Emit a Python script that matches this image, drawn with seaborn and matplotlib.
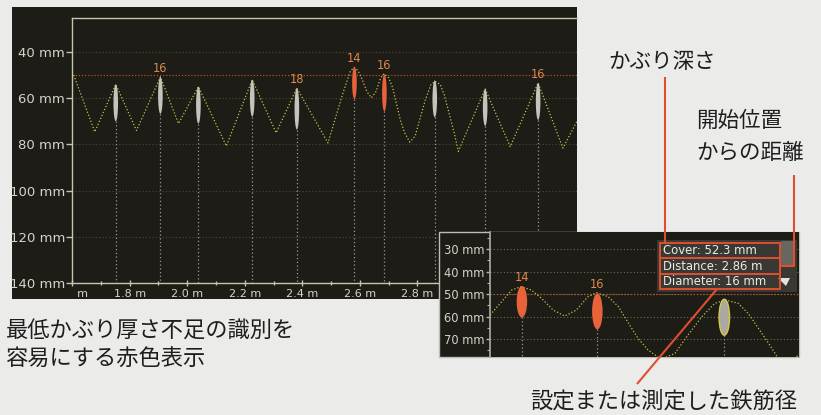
#### Rebar scan screenshot: cover depth profile with zoomed detail ####
import matplotlib
matplotlib.use('Agg')
import matplotlib.pyplot as plt
from matplotlib.patches import Ellipse, Rectangle, Polygon
from matplotlib.transforms import Bbox, TransformedBbox
import seaborn as sns

# Rebars found along the scan line
rebar_pos = [1.752, 1.907, 2.039, 2.226, 2.381, 2.581, 2.685, 2.860, 3.035, 3.219]   # m
rebar_cover = [54.0, 50.8, 55.0, 52.0, 55.6, 46.4, 49.7, 52.3, 56.0, 53.4]           # mm
rebar_diam = [16, 16, 16, 16, 18, 14, 16, 16, 16, 16]                                # mm
rebar_labelled = [False, True, False, False, True, True, True, False, False, True]
selected = 7          # rebar shown in the info box
min_cover = 50.0      # minimum cover (red line)

# Signal trace
wave_x = [1.606, 1.679, 1.752, 1.824, 1.907, 1.970, 2.039, 2.136, 2.226, 2.309, 2.381, 2.489,
          2.539, 2.553, 2.567, 2.580, 2.594, 2.608, 2.624, 2.640, 2.656, 2.672, 2.684, 2.700,
          2.714, 2.728, 2.741, 2.755, 2.773, 2.792, 2.810, 2.829, 2.847, 2.861, 2.879, 2.893,
          2.907, 2.921, 2.930, 2.942, 3.035, 3.122, 3.219, 3.305, 3.354]
wave_y = [50.0, 74.6, 54.0, 74.0, 50.8, 71.0, 55.0, 80.7, 52.0, 75.0, 55.6, 79.4,
          58.6, 53.4, 48.2, 46.7, 48.2, 51.9, 57.1, 59.8, 57.1, 51.2, 49.4, 51.2,
          55.6, 63.0, 69.7, 74.9, 79.0, 76.4, 68.2, 60.1, 54.1, 52.7, 54.1, 58.6,
          65.2, 71.9, 76.4, 83.0, 56.0, 81.0, 53.4, 81.6, 70.0]

main_yticks = [40, 60, 80, 100, 120, 140]
main_xticks = [1.6, 1.8, 2.0, 2.2, 2.4, 2.6, 2.8, 3.0, 3.2]
main_xlabels = ['1.6 m', '1.8 m', '2.0 m', '2.2 m', '2.4 m', '2.6 m', '2.8 m', '', '']  # rest hidden by the detail view
inset_yticks = [30, 40, 50, 60, 70]

sns.set_theme(style='dark')
plt.rcParams['font.family'] = ['DejaVu Sans', 'Noto Sans CJK JP']
JP = ['Noto Sans CJK JP', 'DejaVu Sans']

paper = '#ebebe9'
panel = '#1d1c16'
axis_col = '#c9c5ab'
tick_txt = '#d6d4c8'
wave_col = '#c2c24a'
red = '#e8623a'
red_line = '#b9502c'
ann_red = '#dc5030'
gray_bar = '#c4c4bc'
lab_col = '#dc8a50'
text_col = '#1e1e1e'

W, H = 821, 415
fig = plt.figure(figsize=(W / 100, H / 100), dpi=100, facecolor=paper)


def fx(px):
    return px / W


def fy(py):
    return 1 - py / H


# dark panel of the main screen
fig.add_artist(Rectangle((fx(12), fy(299)), fx(577) - fx(12), fy(7) - fy(299),
                         transform=fig.transFigure, facecolor=panel, edgecolor='none', zorder=-1))


def draw_scan(ax, ell_w, grid_col, outline_selected=False):
    bottom = ax.get_ylim()[0]
    ax.yaxis.grid(True, color=grid_col, lw=0.8, ls=(0, (1, 2)))
    ax.xaxis.grid(False)
    ax.axhline(min_cover, color=red_line, lw=0.9, ls=(0, (1, 1.5)), zorder=2)
    sns.lineplot(x=wave_x, y=wave_y, ax=ax, color=wave_col, lw=0.9, ls=(0, (1, 1.6)),
                 sort=False, estimator=None, zorder=3)
    for i, (x, c, d) in enumerate(zip(rebar_pos, rebar_cover, rebar_diam)):
        face = red if c < min_cover else gray_bar
        edge = 'none'
        if outline_selected and i == selected:
            face, edge = '#a9a9a2', '#d8c848'
        ax.vlines(x, c + d, bottom, color='#9a9a94', lw=0.9, ls=(0, (1, 2)), zorder=2)
        ax.add_patch(Ellipse((x, c + d / 2), ell_w, d, facecolor=face, edgecolor=edge,
                             lw=1.0, zorder=4))
        if rebar_labelled[i]:
            ax.annotate(str(d), (x, c), xytext=(0, 1.5), textcoords='offset points',
                        ha='center', va='bottom', color=lab_col, fontsize=8.3, zorder=5)


# ---- main chart ----
ax = fig.add_axes([fx(72), fy(283), fx(577) - fx(72), fy(18) - fy(283)], zorder=0)
ax.set_facecolor(panel)
ax.set_xlim(1.606, 3.354)
ax.set_ylim(140, 25.3)
draw_scan(ax, 0.016, '#4c4a2c')
ax.set_yticks(main_yticks)
ax.set_yticklabels([f'{v} mm' for v in main_yticks])
ax.set_xticks(main_xticks)
ax.set_xticklabels(main_xlabels)
ax.set_xticks([1.7, 1.9, 2.1, 2.3, 2.5, 2.7, 2.9, 3.1, 3.3], minor=True)
ax.tick_params(axis='y', colors=axis_col, labelcolor=tick_txt, labelsize=9.5,
               length=4, width=1, direction='out', pad=1, left=True)
ax.tick_params(axis='x', which='major', colors=axis_col, labelcolor=tick_txt, labelsize=8,
               length=5, width=1, direction='inout', pad=2, bottom=True)
ax.tick_params(axis='x', which='minor', colors=axis_col, length=3, width=1,
               direction='inout', bottom=True)
for s in ['left', 'top', 'bottom']:
    ax.spines[s].set_visible(True)
    ax.spines[s].set_color(axis_col)
    ax.spines[s].set_linewidth(1)
ax.spines['right'].set_visible(False)
ax.set_xlabel('')
ax.set_ylabel('')
# the screen cuts off the first distance label
clip = TransformedBbox(Bbox([[fx(76), 0], [1, 1]]), fig.transFigure)
for t in ax.xaxis.get_major_ticks():
    t.label1.set_clip_box(clip)
    t.label1.set_clip_on(True)

# ---- zoomed detail ----
fig.add_artist(Rectangle((fx(439), fy(357)), fx(799) - fx(439), fy(232) - fy(357),
                         transform=fig.transFigure, facecolor=panel, edgecolor='#bdbdb8',
                         lw=1.0, zorder=1))
ax2 = fig.add_axes([fx(490), fy(357), fx(799) - fx(490), fy(232) - fy(357)], zorder=2)
ax2.set_facecolor(panel)
ax2.set_xlim(2.537, 2.963)
ax2.set_ylim(78, 22.4)
draw_scan(ax2, 0.0145, '#6e6c54', outline_selected=True)
ax2.set_yticks(inset_yticks)
ax2.set_yticklabels([f'{v} mm' for v in inset_yticks])
ax2.set_yticks([25, 35, 45, 55, 65, 75], minor=True)
ax2.set_xticks([])
ax2.tick_params(axis='y', which='major', colors='#b4b4ac', labelcolor=tick_txt, labelsize=8.3,
                length=3, width=1, direction='out', pad=1, left=True)
ax2.tick_params(axis='y', which='minor', colors='#b4b4ac', length=2, width=0.8,
                direction='out', left=True)
for s in ['top', 'right', 'bottom']:
    ax2.spines[s].set_visible(False)
ax2.spines['left'].set_visible(True)
ax2.spines['left'].set_color('#a8a8a0')
ax2.set_xlabel('')
ax2.set_ylabel('')

# ---- overlay in pixel coordinates: info box and callouts ----
ov = fig.add_axes([0, 0, 1, 1], zorder=10)
ov.set_xlim(0, W)
ov.set_ylim(H, 0)
ov.axis('off')
ov.patch.set_alpha(0)

ov.add_patch(Rectangle((657, 240), 140, 52, facecolor='#3b3a35', edgecolor='none', alpha=0.95))
ov.add_patch(Rectangle((781, 241), 14, 25, facecolor='#67665f', edgecolor='none'))
ov.add_patch(Polygon([(778, 278), (790, 278), (786, 286)], closed=True,
                     facecolor='#e2e2e0', edgecolor='none'))
info = [f'Cover: {rebar_cover[selected]:.1f} mm',
        f'Distance: {rebar_pos[selected]:.2f} m',
        f'Diameter: {rebar_diam[selected]} mm']
for k, line in enumerate(info):
    y0 = 243 + k * 15.3
    ov.add_patch(Rectangle((660, y0), 120, 15.3, facecolor='none', edgecolor=ann_red, lw=1.4))
    ov.text(663, y0 + 7.9, line, color='#ecece6', fontsize=8.4, va='center', ha='left')

ov.plot([665, 665], [77, 243], color=ann_red, lw=1.5, solid_capstyle='butt')
ov.plot([794, 794, 780], [175, 265.5, 265.5], color=ann_red, lw=1.5, solid_capstyle='butt')
ov.plot([717, 637], [289, 384], color=ann_red, lw=1.5, solid_capstyle='butt')

ov.text(608, 62, 'かぶり深さ', family=JP, fontsize=15.5, color=text_col, va='center', ha='left')
ov.text(696, 121, '開始位置', family=JP, fontsize=15.5, color=text_col, va='center', ha='left')
ov.text(696, 153, 'からの距離', family=JP, fontsize=15.5, color=text_col, va='center', ha='left')
ov.text(6, 330, '最低かぶり厚さ不足の識別を', family=JP, fontsize=16, color=text_col,
        va='center', ha='left')
ov.text(6, 359, '容易にする赤色表示', family=JP, fontsize=16, color=text_col,
        va='center', ha='left')
ov.text(530, 401, '設定または測定した鉄筋径', family=JP, fontsize=16, color=text_col,
        va='center', ha='left')

fig.savefig('out.png', dpi=100, facecolor=paper)
